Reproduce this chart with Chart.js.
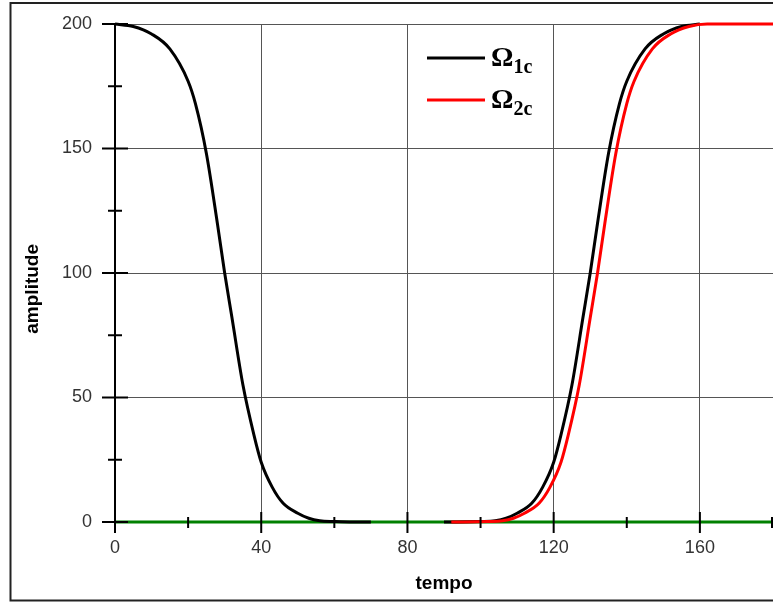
<!DOCTYPE html>
<html lang="pt">
<head>
  <meta charset="UTF-8">
  <title>amplitude x tempo</title>
  <script src="https://cdn.jsdelivr.net/npm/chart.js"></script>
  <style>
    body {
      margin: 0;
      background-color: white;
    }
    #chart-container {
      width: 773px;
      height: 603px;
      position: relative;
    }
  </style>
</head>
<body>
  <div id="chart-container">
    <canvas id="myChart" width="773" height="603"></canvas>
  </div>

  <script>
    // Omega 1c - falling part and rising part (gap in between)
    const tempo1Down = [0, 5, 10, 15, 20, 22, 25, 28, 30, 32, 35, 38, 40, 43, 46, 50, 53, 56, 60, 65, 70];
    const omega1Down = [200, 199, 196, 190, 177, 168, 148, 120, 100, 82, 55, 35, 24, 14, 7.5, 3.5, 1.5, 0.5, 0.2, 0, 0];
    const tempo1Up = [90, 100, 104, 107, 110, 114, 117, 120, 122, 125, 128, 130, 132, 135, 138, 140, 145, 150, 155, 160];
    const omega1Up = [0, 0.2, 0.5, 1.5, 3.5, 7.5, 14, 24, 35, 55, 82, 100, 120, 148, 168, 177, 190, 196, 199, 200];

    // Omega 2c
    const tempo2 = [92, 102, 106, 109, 112, 116, 119, 122, 124, 127, 130, 132, 134, 137, 140, 142, 147, 152, 157, 162, 180];
    const omega2 = [0, 0.2, 0.5, 1.5, 3.5, 7.5, 14, 24, 35, 55, 82, 100, 120, 148, 168, 177, 190, 196, 199, 200, 200];

    // zero line
    const tempoZero = [0, 180];
    const zeroLine = [0, 0];

    const seriesNames = ['Ω', 'Ω'];
    const seriesSubs = ['1c', '2c'];

    const xMajorTicks = [0, 40, 80, 120, 160];
    const xMinorTicks = [20, 60, 100, 140, 180];
    const yMajorTicks = [0, 50, 100, 150, 200];
    const yMinorTicks = [25, 75, 125, 175];

    function toPoints(xs, ys) {
      return xs.map((x, i) => ({ x: x, y: ys[i] }));
    }

    const omega1Data = toPoints(tempo1Down, omega1Down)
      .concat([{ x: 80, y: null }])
      .concat(toPoints(tempo1Up, omega1Up));

    // frame, crossing tick marks and legend with subscripts
    const extrasPlugin = {
      id: 'extras',
      afterDatasetsDraw(chart) {
        const ctx = chart.ctx;
        const xs = chart.scales.x;
        const ys = chart.scales.y;
        const y0 = ys.getPixelForValue(0);
        const x0 = xs.getPixelForValue(0);
        ctx.save();

        // y axis line
        ctx.strokeStyle = '#000';
        ctx.lineWidth = 2;
        ctx.beginPath();
        ctx.moveTo(x0, ys.getPixelForValue(200));
        ctx.lineTo(x0, y0);
        ctx.stroke();

        // y ticks
        yMajorTicks.forEach(v => {
          const p = ys.getPixelForValue(v);
          ctx.beginPath();
          ctx.moveTo(x0 - 13, p);
          ctx.lineTo(x0 + 13, p);
          ctx.stroke();
        });
        yMinorTicks.forEach(v => {
          const p = ys.getPixelForValue(v);
          ctx.beginPath();
          ctx.moveTo(x0 - 7, p);
          ctx.lineTo(x0 + 7, p);
          ctx.stroke();
        });
        // x ticks
        xMajorTicks.forEach(v => {
          const p = xs.getPixelForValue(v);
          ctx.beginPath();
          ctx.moveTo(p, y0 - 10);
          ctx.lineTo(p, y0 + 11);
          ctx.stroke();
        });
        xMinorTicks.forEach(v => {
          const p = Math.min(xs.getPixelForValue(v), chart.width - 1);
          ctx.beginPath();
          ctx.moveTo(p, y0 - 5);
          ctx.lineTo(p, y0 + 6);
          ctx.stroke();
        });
        ctx.restore();
      },
      afterDraw(chart) {
        const ctx = chart.ctx;
        const area = chart.chartArea;
        ctx.save();

        // outer frame
        ctx.strokeStyle = '#222';
        ctx.lineWidth = 2;
        ctx.beginPath();
        ctx.moveTo(chart.width, 3);
        ctx.lineTo(10.5, 3);
        ctx.lineTo(10.5, 600.5);
        ctx.lineTo(chart.width, 600.5);
        ctx.stroke();

        // legend
        const lx = area.left + 312;
        const ly = area.top + 34;
        const colors = chart.data.datasets.slice(0, 2).map(d => d.borderColor);
        for (let i = 0; i < 2; i++) {
          const y = ly + i * 42;
          ctx.strokeStyle = colors[i];
          ctx.lineWidth = 3;
          ctx.beginPath();
          ctx.moveTo(lx, y);
          ctx.lineTo(lx + 58, y);
          ctx.stroke();
          ctx.fillStyle = '#000';
          ctx.textBaseline = 'alphabetic';
          ctx.textAlign = 'left';
          ctx.font = 'bold 28px "Liberation Serif", "DejaVu Serif", serif';
          ctx.fillText(seriesNames[i], lx + 64, y + 8);
          const w = ctx.measureText(seriesNames[i]).width;
          ctx.font = 'bold 20px "Liberation Serif", "DejaVu Serif", serif';
          ctx.fillText(seriesSubs[i], lx + 64 + w, y + 15);
        }
        ctx.restore();
      }
    };

    const ctx = document.getElementById('myChart').getContext('2d');
    const myChart = new Chart(ctx, {
      type: 'line',
      data: {
        datasets: [
          {
            label: 'Ω1c',
            data: omega1Data,
            borderColor: '#000000',
            borderWidth: 3,
            pointRadius: 0,
            cubicInterpolationMode: 'monotone',
            spanGaps: false,
            fill: false,
            clip: 6,
            order: 1
          },
          {
            label: 'Ω2c',
            data: toPoints(tempo2, omega2),
            borderColor: '#ff0000',
            borderWidth: 3,
            pointRadius: 0,
            cubicInterpolationMode: 'monotone',
            fill: false,
            clip: 6,
            order: 0
          },
          {
            label: 'zero',
            data: toPoints(tempoZero, zeroLine),
            borderColor: '#008000',
            borderWidth: 3,
            pointRadius: 0,
            fill: false,
            clip: 6,
            order: 2
          }
        ]
      },
      options: {
        responsive: false,
        devicePixelRatio: 1,
        animation: false,
        events: [],
        layout: {
          padding: { left: 0, top: 24, right: 0, bottom: 0 }
        },
        plugins: {
          legend: { display: false },
          tooltip: { enabled: false }
        },
        scales: {
          x: {
            type: 'linear',
            min: 0,
            max: 180,
            border: { display: false },
            grid: {
              color: c => c.tick.value === 0 ? 'rgba(0,0,0,0)' : '#555',
              lineWidth: 1,
              drawTicks: false
            },
            ticks: {
              stepSize: 40,
              includeBounds: false,
              padding: 15,
              color: '#333',
              font: { family: '"Liberation Sans", Arial, sans-serif', size: 18 }
            },
            title: {
              display: true,
              text: 'tempo',
              color: '#000',
              padding: { top: 0, bottom: 8 },
              font: { family: '"Liberation Sans", Arial, sans-serif', size: 19, weight: 'bold' }
            },
            afterFit: scale => { scale.height = 81; }
          },
          y: {
            min: 0,
            max: 200,
            border: { display: false },
            grid: {
              color: c => c.tick.value === 0 ? 'rgba(0,0,0,0)' : '#555',
              lineWidth: 1,
              drawTicks: false
            },
            ticks: {
              stepSize: 50,
              padding: 23,
              color: '#333',
              font: { family: '"Liberation Sans", Arial, sans-serif', size: 18 }
            },
            title: {
              display: true,
              // trailing spaces push the word a little lower, like the original
              text: 'amplitude      ',
              color: '#000',
              padding: { top: 21, bottom: 0 },
              font: { family: '"Liberation Sans", Arial, sans-serif', size: 19, weight: 'bold' }
            },
            afterFit: scale => {
              scale.width = 115;
              scale.paddingTop = 0;
              scale.paddingBottom = 0;
            }
          }
        }
      },
      plugins: [extrasPlugin]
    });
  </script>
</body>
</html>
